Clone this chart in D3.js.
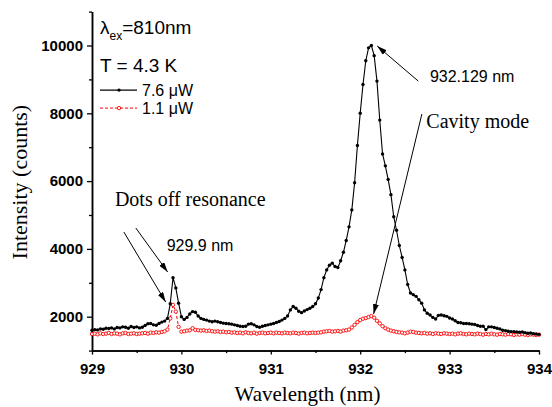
<!DOCTYPE html>
<html>
<head>
<meta charset="utf-8">
<script src="https://cdn.jsdelivr.net/npm/d3@7"></script>
<style>
body{margin:0;background:#fff;}
</style>
</head>
<body>
<div id="chart"></div>
<script>
var wlStart = 929, wlStep = 1/32;//spectrometer grid, one reading every 1/32 nm

var power76 = [1600,1620,1610,1640,1630,1660,1650,1670,1640,1680,1670,1700,1690,1660,1710,1680,
  1700,1670,1690,1740,1790,1800,1760,1750,1800,1840,1870,1950,2380,3150,2850,2400,
  2000,1920,1980,2080,2150,2130,2020,1950,1920,1900,1870,1850,1870,1850,1830,1810,
  1800,1790,1780,1760,1740,1720,1710,1720,1780,1790,1760,1710,1690,1720,1740,1760,
  1780,1800,1830,1860,1900,1950,2020,2200,2300,2250,2160,2120,2170,2210,2250,2300,
  2380,2550,2800,3150,3380,3520,3580,3480,3450,3650,3900,4250,4650,5150,5950,7050,
  8000,8850,9550,9930,10000,9700,8950,7800,6800,6450,6050,5600,4950,4550,4100,3750,
  3380,2950,2700,2650,2600,2500,2400,2200,2100,2050,1980,1930,2040,2050,2030,2010,
  1960,1930,1880,1830,1820,1800,1800,1790,1780,1770,1740,1720,1720,1620,1700,1700,
  1680,1660,1640,1600,1590,1570,1560,1560,1550,1540,1550,1530,1510,1520,1500,1490,1480];

var power11 = [1490,1500,1480,1510,1490,1500,1520,1490,1510,1500,1480,1510,1520,1490,1500,1510,
  1490,1500,1510,1520,1500,1530,1520,1540,1530,1550,1570,1620,1950,2350,2150,1700,
  1560,1570,1590,1600,1660,1610,1600,1590,1600,1580,1590,1570,1560,1570,1550,1560,
  1540,1550,1530,1540,1520,1530,1510,1540,1520,1510,1530,1500,1520,1530,1510,1520,
  1530,1510,1530,1520,1510,1530,1520,1510,1530,1520,1500,1520,1530,1510,1520,1530,
  1520,1530,1540,1560,1570,1580,1560,1570,1580,1560,1590,1600,1620,1680,1760,1840,
  1900,1940,1960,1990,2020,1970,1880,1800,1720,1660,1620,1590,1570,1550,1540,1530,
  1510,1530,1560,1550,1530,1520,1510,1520,1500,1510,1490,1510,1500,1490,1510,1500,
  1490,1500,1480,1500,1510,1490,1480,1500,1490,1480,1500,1490,1470,1490,1480,1500,
  1480,1470,1490,1480,1470,1490,1480,1460,1480,1470,1490,1470,1460,1480,1470,1460,1470];

var xTicks = [929,930,931,932,933,934];
var xMinor = [929.5,930.5,931.5,932.5,933.5];
var yTicks = [2000,4000,6000,8000,10000];
var yMinor = [1000,3000,5000,7000,9000,11000];

var margin = {top: 11.6, right: 13, bottom: 56.4, left: 92},
  width = 552 - margin.left - margin.right,
  height = 407 - margin.top - margin.bottom;

var svg = d3.select("#chart")
  .append("svg")
  .attr("width", 552)
  .attr("height", 407)
  .append("g")
  .attr("transform","translate(" + margin.left + "," + margin.top + ")");

var x = d3.scaleLinear().domain([929, 934]).range([0, width]);
var y = d3.scaleLinear().domain([1000, 11000]).range([height, 0]);

function wl(i){ return wlStart + i*wlStep; }

svg.append("defs").append("marker")//arrow head for the annotations
  .attr("id","head")
  .attr("markerUnits","userSpaceOnUse")
  .attr("markerWidth",10).attr("markerHeight",6)
  .attr("refX",10).attr("refY",3)
  .attr("orient","auto")
  .append("path").attr("d","M0,0 L10,3 L0,6 Z").attr("fill","#000");

//axes, major and minor ticks
var gx = svg.append("g").attr("transform","translate(0," + height + ")")
  .call(d3.axisBottom(x).tickValues(xTicks).tickSize(4).tickSizeOuter(0).tickPadding(9).tickFormat(d3.format("d")));
svg.append("g").attr("transform","translate(0," + height + ")")
  .call(d3.axisBottom(x).tickValues(xMinor).tickSize(2.5).tickSizeOuter(0).tickFormat(""));
var gy = svg.append("g")
  .call(d3.axisLeft(y).tickValues(yTicks).tickSize(5).tickSizeOuter(0).tickPadding(4).tickFormat(d3.format("d")));
svg.append("g")
  .call(d3.axisLeft(y).tickValues(yMinor).tickSize(3).tickSizeOuter(0).tickFormat(""));

svg.selectAll(".domain").attr("stroke","#000").attr("stroke-width",1.5);
svg.selectAll(".tick line").attr("stroke","#000").attr("stroke-width",1.3);
svg.selectAll(".tick text")
  .attr("fill","#000")
  .style("font-family","'Liberation Sans', Arial, sans-serif")
  .style("font-weight","bold")
  .style("font-size","15px");

//axis titles
svg.append("text")
  .attr("x", width/2 - 8).attr("y", height + 50)
  .attr("text-anchor","middle")
  .style("font-family","'Liberation Serif', 'Times New Roman', serif")
  .style("font-size","21px")
  .text("Wavelength (nm)");

svg.append("text")
  .attr("transform","translate(-65," + (height/2 + 1) + ") rotate(-90)")
  .attr("text-anchor","middle")
  .style("font-family","'Liberation Serif', 'Times New Roman', serif")
  .style("font-size","22px")
  .text("Intensity (counts)");

var line = d3.line()
  .x(function(d,i){ return x(wl(i)); })
  .y(function(d){ return y(d); });

//1.1 uW series, red dashed with open circles
svg.append("path").datum(power11)
  .attr("d", line)
  .attr("fill","none")
  .attr("stroke","#ff0000")
  .attr("stroke-width",1)
  .attr("stroke-dasharray","3,2");
svg.append("g").selectAll("circle")
  .data(power11)
  .enter().append("circle")
    .attr("cx", function(d,i){ return x(wl(i)); })
    .attr("cy", function(d){ return y(d); })
    .attr("r", 1.7)
    .attr("fill","#fff")
    .attr("stroke","#ff0000")
    .attr("stroke-width",0.9);

//7.6 uW series, black solid with dots
svg.append("path").datum(power76)
  .attr("d", line)
  .attr("fill","none")
  .attr("stroke","#000")
  .attr("stroke-width",1.1);
svg.append("g").selectAll("circle")
  .data(power76)
  .enter().append("circle")
    .attr("cx", function(d,i){ return x(wl(i)); })
    .attr("cy", function(d){ return y(d); })
    .attr("r", 1.7)
    .attr("fill","#000");

//annotations, placed in data units
var arrows = [
  [[932.65, 8950], [932.19, 9985]],
  [[932.69, 7979], [932.15, 2080]],
  [[929.49, 4617], [929.846, 3319]],
  [[929.356, 4499], [929.824, 2434]]
];
svg.append("g").selectAll("line")
  .data(arrows)
  .enter().append("line")
    .attr("x1", function(d){ return x(d[0][0]); })
    .attr("y1", function(d){ return y(d[0][1]); })
    .attr("x2", function(d){ return x(d[1][0]); })
    .attr("y2", function(d){ return y(d[1][1]); })
    .attr("stroke","#000")
    .attr("stroke-width",1)
    .attr("marker-end","url(#head)");

var notes = [
  {t:"932.129 nm", w:932.78, v:8932, serif:false, size:16},
  {t:"Cavity mode", w:932.74, v:7558, serif:true, size:20},
  {t:"Dots off resonance", w:929.256, v:5265, serif:true, size:20},
  {t:"929.9 nm", w:929.835, v:3938, serif:false, size:16}
];
svg.append("g").selectAll("text")
  .data(notes)
  .enter().append("text")
    .attr("x", function(d){ return x(d.w); })
    .attr("y", function(d){ return y(d.v); })
    .style("font-family", function(d){ return d.serif ? "'Liberation Serif', serif" : "'Liberation Sans', Arial, sans-serif"; })
    .style("font-size", function(d){ return d.size + "px"; })
    .text(function(d){ return d.t; });

//legend block in the top left corner
var leg = svg.append("g").attr("transform","translate(8,0)")
  .style("font-family","'Liberation Sans', Arial, sans-serif");

var lam = leg.append("text").attr("x",0).attr("y",22).style("font-size","19px");
lam.append("tspan").text("λ");
lam.append("tspan").attr("dy",6).style("font-size","12px").text("ex");
lam.append("tspan").attr("dy",-6).text("=810nm");

leg.append("text").attr("x",0).attr("y",60).style("font-size","19px").text("T = 4.3 K");

leg.append("line").attr("x1",0).attr("x2",37).attr("y1",78.5).attr("y2",78.5)
  .attr("stroke","#000").attr("stroke-width",1.1);
leg.append("circle").attr("cx",19).attr("cy",78.5).attr("r",1.7).attr("fill","#000");
leg.append("text").attr("x",42).attr("y",84.5).style("font-size","16px").text("7.6 μW");

leg.append("line").attr("x1",0).attr("x2",37).attr("y1",96.5).attr("y2",96.5)
  .attr("stroke","#ff0000").attr("stroke-width",1).attr("stroke-dasharray","3,2");
leg.append("circle").attr("cx",19).attr("cy",96.5).attr("r",1.7)
  .attr("fill","#fff").attr("stroke","#ff0000").attr("stroke-width",0.9);
leg.append("text").attr("x",42).attr("y",102.5).style("font-size","16px").text("1.1 μW");
</script>
</body>
</html>
